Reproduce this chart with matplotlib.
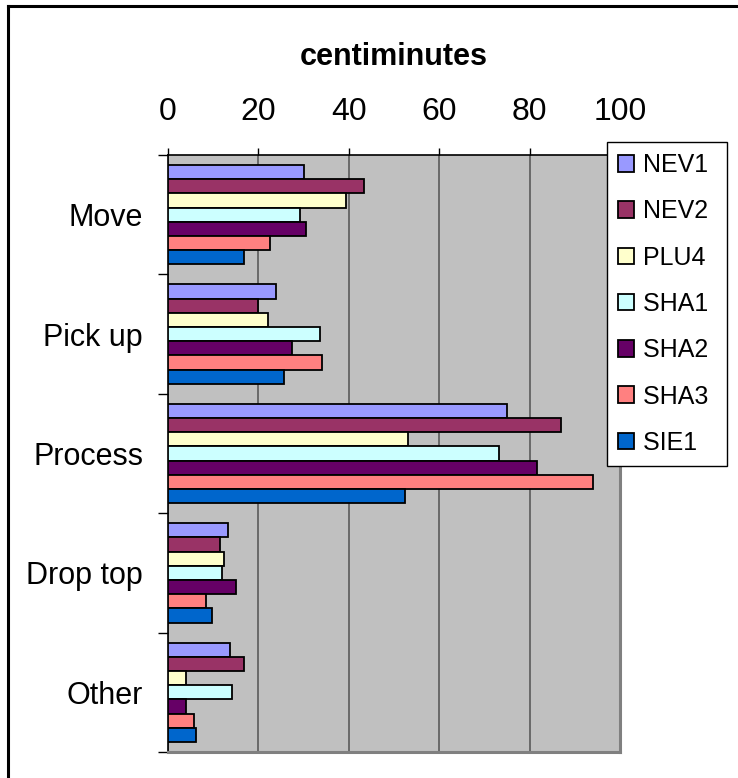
import matplotlib
matplotlib.use("Agg")
import matplotlib.pyplot as plt
from matplotlib.lines import Line2D
from matplotlib.patches import Patch
import numpy as np

plt.rcParams['font.family'] = ['Liberation Sans', 'DejaVu Sans']

categories = ["Move", "Pick up", "Process", "Drop top", "Other"]
series = ["NEV1", "NEV2", "PLU4", "SHA1", "SHA2", "SHA3", "SIE1"]
colors = ["#9999FF", "#993366", "#FFFFCC", "#CCFFFF", "#660066", "#FF8080", "#0066CC"]

nev1 = [30.1, 23.8, 75.1, 13.3, 13.8]
nev2 = [43.3, 19.9, 87.0, 11.5, 16.8]
plu4 = [39.4, 22.1, 53.0, 12.4, 4.0]
sha1 = [29.2, 33.7, 73.3, 12.0, 14.2]
sha2 = [30.5, 27.4, 81.7, 15.1, 4.0]
sha3 = [22.6, 34.1, 94.1, 8.4, 5.8]
sie1 = [16.8, 25.7, 52.5, 9.8, 6.2]
values = [nev1, nev2, plu4, sha1, sha2, sha3, sie1]

x_ticks = [0, 20, 40, 60, 80, 100]

FS = 22
LEG_FS = 18

W, H = 738, 778
fig = plt.figure(figsize=(W / 100, H / 100), dpi=100)

# chart frame (left and top edges fall inside the canvas)
fig.add_artist(Line2D([8 / W, 8 / W], [-0.1, 1 - 6 / H], transform=fig.transFigure,
                      color="black", lw=2.2))
fig.add_artist(Line2D([8 / W, 1.1], [1 - 6 / H, 1 - 6 / H], transform=fig.transFigure,
                      color="black", lw=2.2))

left, right, top, bottom = 168, 620, 155, 752
ax = fig.add_axes([left / W, 1 - bottom / H, (right - left) / W, (bottom - top) / H])
ax.set_facecolor("#C0C0C0")

n = len(series)
bar_h = 0.119
pos = np.arange(len(categories))
for j, (name, vals, c) in enumerate(zip(series, values, colors)):
    ax.barh(pos + (j - (n - 1) / 2) * bar_h, vals, height=bar_h, color=c,
            edgecolor="black", linewidth=1.3, label=name, zorder=3)

ax.set_xlim(0, 100)
ax.set_ylim(len(categories) - 0.5, -0.5)

ax.xaxis.tick_top()
ax.set_xticks(x_ticks)
ax.set_xticklabels([str(t) for t in x_ticks], fontsize=23)
ax.tick_params(axis="x", direction="out", length=5, width=1, pad=15, colors="black")
ax.grid(axis="x", color="#5A5A5A", lw=1.2, zorder=1)
ax.set_axisbelow(True)

ax.set_yticks(pos)
ax.set_yticklabels(categories, fontsize=FS)
ax.set_yticks(np.arange(len(categories) + 1) - 0.5, minor=True)
ax.tick_params(axis="y", which="major", length=0, pad=18)
ax.tick_params(axis="y", which="minor", length=7, width=1, direction="out")

for s in ("left", "top"):
    ax.spines[s].set_color("black")
    ax.spines[s].set_linewidth(1.2)
for s in ("right", "bottom"):
    ax.spines[s].set_color("#808080")
    ax.spines[s].set_linewidth(2.2)

fig.text((left + right) / 2 / W, 1 - 57 / H, "centiminutes", ha="center", va="center",
         fontsize=FS, fontweight="bold")

handles = [Patch(facecolor=c, edgecolor="black", linewidth=1.3) for c in colors]
leg = fig.legend(handles, [s + " " for s in series], loc="upper left",
                 bbox_to_anchor=(607 / W, 1 - 142 / H), fontsize=LEG_FS,
                 frameon=True, fancybox=False, edgecolor="black", framealpha=1,
                 handlelength=0.64, handleheight=0.64, handletextpad=0.36,
                 labelspacing=0.89, borderpad=0.45, borderaxespad=0)
leg.get_frame().set_linewidth(1.0)

fig.savefig("out.png", dpi=100)
